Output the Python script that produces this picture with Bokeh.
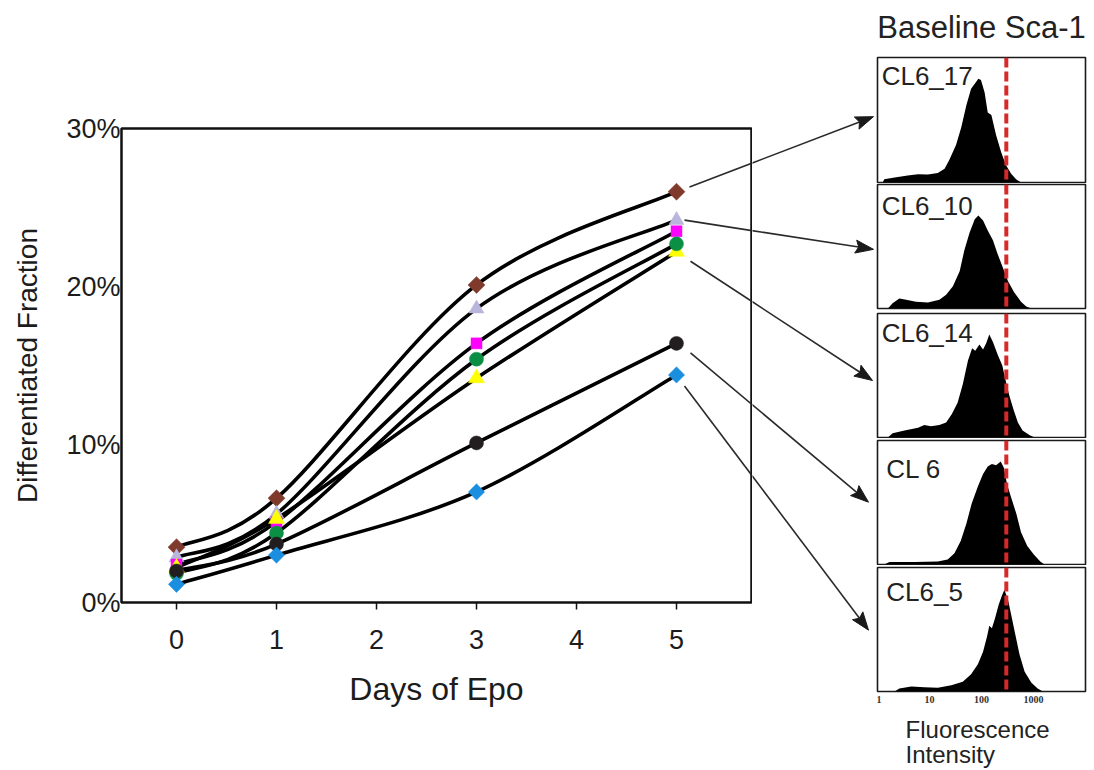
import numpy as np
from bokeh.plotting import figure
from bokeh.models import (Range1d, FixedTicker, PrintfTickFormatter, ColumnDataSource, Span, Label)
from bokeh.core.properties import value
from bokeh.layouts import row, column
from bokeh.embed import file_html
from bokeh.resources import INLINE

# ---------------- data ----------------
days = [0, 1, 3, 5]

# differentiated fraction (%) per clone after 0, 1, 3, 5 days of Epo
frac_cl6_17 = [3.5, 6.6, 20.1, 26.0]
frac_cl6_10 = [2.85, 5.6, 18.6, 24.2]
frac_clone_m = [2.4, 5.1, 16.4, 23.5]
frac_cl6_14 = [2.2, 5.3, 14.2, 22.2]
frac_clone_g = [1.85, 4.4, 15.4, 22.7]
frac_cl6 = [2.0, 3.7, 10.1, 16.4]
frac_cl6_5 = [1.15, 3.0, 7.0, 14.4]

x_ticks = [0, 1, 2, 3, 4, 5]
y_ticks = [0, 10, 20, 30]

# baseline Sca-1 histograms: log10 fluorescence intensity and relative count
panel_names = ["CL6_17", "CL6_10", "CL6_14", "CL 6", "CL6_5"]
hist_log_cl6_17 = [0.10, 0.13, 0.33, 0.58, 0.78, 0.97, 1.16, 1.29, 1.38, 1.51, 1.61, 1.71, 1.80,
                   1.87, 1.94, 1.99, 2.06, 2.12, 2.19, 2.28, 2.38, 2.47, 2.57, 2.67, 2.76]
hist_cnt_cl6_17 = [0.0, 0.027, 0.04, 0.056, 0.067, 0.064, 0.077, 0.11, 0.18, 0.30, 0.44, 0.62, 0.75,
                   0.79, 0.83, 0.82, 0.72, 0.56, 0.54, 0.38, 0.24, 0.14, 0.07, 0.024, 0.0]
hist_log_cl6_10 = [0.20, 0.29, 0.42, 0.55, 0.74, 0.97, 1.19, 1.32, 1.45, 1.58, 1.67, 1.77, 1.87,
                   1.94, 2.03, 2.12, 2.22, 2.31, 2.41, 2.51, 2.63, 2.76, 2.86, 2.96]
hist_cnt_cl6_10 = [0.0, 0.043, 0.08, 0.07, 0.054, 0.048, 0.07, 0.11, 0.18, 0.30, 0.47, 0.61, 0.72,
                   0.75, 0.71, 0.63, 0.55, 0.44, 0.33, 0.22, 0.13, 0.054, 0.016, 0.0]
hist_log_cl6_14 = [0.20, 0.29, 0.52, 0.78, 0.90, 1.03, 1.19, 1.32, 1.43, 1.54, 1.64, 1.74, 1.82, 1.88,
                   1.96, 2.03, 2.09, 2.15, 2.22, 2.31, 2.40, 2.47, 2.54, 2.62, 2.70, 2.79, 2.92, 3.02]
hist_cnt_cl6_14 = [0.0, 0.035, 0.056, 0.078, 0.10, 0.09, 0.10, 0.12, 0.19, 0.28, 0.43, 0.62, 0.72, 0.70,
                   0.75, 0.71, 0.76, 0.83, 0.77, 0.67, 0.58, 0.45, 0.33, 0.22, 0.12, 0.056, 0.02, 0.0]
hist_log_cl6 = [0.13, 0.23, 0.71, 1.16, 1.35, 1.48, 1.60, 1.71, 1.81, 1.93, 2.03, 2.12, 2.20, 2.28,
                2.37, 2.43, 2.49, 2.57, 2.67, 2.76, 2.88, 3.01, 3.13, 3.21]
hist_cnt_cl6 = [0.0, 0.02, 0.02, 0.024, 0.04, 0.09, 0.19, 0.33, 0.49, 0.63, 0.73, 0.79, 0.81, 0.80,
                0.83, 0.78, 0.65, 0.54, 0.41, 0.26, 0.15, 0.078, 0.024, 0.0]
hist_log_cl6_5 = [0.33, 0.42, 0.65, 0.90, 1.16, 1.42, 1.64, 1.80, 1.93, 2.03, 2.11, 2.15, 2.20, 2.26,
                  2.33, 2.39, 2.44, 2.51, 2.57, 2.65, 2.73, 2.83, 2.96, 3.08, 3.18]
hist_cnt_cl6_5 = [0.0, 0.024, 0.04, 0.035, 0.03, 0.05, 0.078, 0.14, 0.22, 0.32, 0.45, 0.53, 0.51, 0.59,
                  0.70, 0.77, 0.82, 0.74, 0.62, 0.46, 0.30, 0.16, 0.07, 0.024, 0.0]
sca1_gate = 300
hist_ticks = [1, 10, 100, 1000]

FONT = "Liberation Sans"
INK = "#1c1c1c"

# ---------------- main time course ----------------
X0, X1, Y0, Y1 = -0.55, 5.75, 0, 30
FRAME_W, FRAME_H = 630, 474
main = figure(width=752, height=770, x_range=Range1d(X0, X1), y_range=Range1d(Y0, Y1),
              output_backend="svg", toolbar_location=None, title=None,
              min_border_left=121, min_border_right=1, min_border_top=128, min_border_bottom=168)
main.xgrid.visible = False
main.ygrid.visible = False
main.outline_line_color = "#111111"
main.outline_line_width = 2.5
main.outline_line_alpha = 1.0

xa = main.xaxis[0]
xa.ticker = FixedTicker(ticks=x_ticks)
xa.axis_label = "Days of Epo"
xa.axis_line_color = None
xa.major_tick_out = 7
xa.major_tick_in = 0
xa.major_tick_line_width = 1.5
xa.major_tick_line_color = "#111111"
xa.minor_tick_line_color = None
xa.major_label_standoff = 20
xa.axis_label_standoff = 19

ya = main.yaxis[0]
ya.ticker = FixedTicker(ticks=y_ticks)
ya.formatter = PrintfTickFormatter(format="%d%%")
ya.axis_label = "Differentiated Fraction"
ya.axis_line_color = None
ya.major_tick_line_color = None
ya.major_tick_out = 0
ya.major_tick_in = 0
ya.minor_tick_line_color = None
ya.major_label_standoff = 1
ya.axis_label_standoff = 20

for ax in (xa, ya):
    ax.major_label_text_font = FONT
    ax.major_label_text_font_size = "27px"
    ax.major_label_text_color = INK
    ax.axis_label_text_font = FONT
    ax.axis_label_text_font_style = "normal"
    ax.axis_label_text_color = INK
xa.axis_label_text_font_size = "32px"
ya.axis_label_text_font_size = "28px"


def smooth_segments(xs, ys):
    """Cubic Bezier pieces of a smoothed line through the points."""
    px = [xs[0]] + list(xs) + [xs[-1]]
    py = [ys[0]] + list(ys) + [ys[-1]]
    seg = dict(x0=[], y0=[], x1=[], y1=[], cx0=[], cy0=[], cx1=[], cy1=[])
    for i in range(1, len(px) - 2):
        seg["x0"].append(px[i])
        seg["y0"].append(py[i])
        seg["x1"].append(px[i + 1])
        seg["y1"].append(py[i + 1])
        seg["cx0"].append(px[i] + (px[i + 1] - px[i - 1]) / 6)
        seg["cy0"].append(py[i] + (py[i + 1] - py[i - 1]) / 6)
        seg["cx1"].append(px[i + 1] - (px[i + 2] - px[i]) / 6)
        seg["cy1"].append(py[i + 1] - (py[i + 2] - py[i]) / 6)
    return seg


series = [
    (frac_cl6_17, "square", "#7f3a2c", 12, np.pi / 4),
    (frac_cl6_10, "triangle", "#b9b5dc", 15, 0),
    (frac_clone_m, "square", "#ff00ff", 11, 0),
    (frac_cl6_14, "triangle", "#ffff00", 16, 0),
    (frac_clone_g, "circle", "#0b8f45", 14, 0),
    (frac_cl6, "circle", "#221e1f", 14, 0),
    (frac_cl6_5, "square", "#1b8fdf", 11.5, np.pi / 4),
]

for vals, *_ in series:
    main.bezier(x0="x0", y0="y0", x1="x1", y1="y1", cx0="cx0", cy0="cy0", cx1="cx1", cy1="cy1",
                source=ColumnDataSource(smooth_segments(days, vals)),
                line_color="#000000", line_width=3.6, line_cap="round")

for vals, marker, color, size, angle in series:
    main.scatter(days, vals, marker=marker, size=size, angle=angle,
                 fill_color=color, line_color=color, line_width=0.5)

# ---------------- pointers from day-5 values to the histograms ----------------
# strip between the chart and the histogram column, sharing the chart's scales
px_per_x = FRAME_W / (X1 - X0)
px_per_y = FRAME_H / (Y1 - Y0)
STRIP_W = 124
strip_x0 = X1 + 1 / px_per_x
strip = figure(width=STRIP_W, height=770, title=None,
               x_range=Range1d(strip_x0, strip_x0 + STRIP_W / px_per_x),
               y_range=Range1d(Y0 - 168 / px_per_y, Y1 + 128 / px_per_y),
               output_backend="svg", toolbar_location=None,
               x_axis_location=None, y_axis_location=None,
               min_border_left=0, min_border_right=0, min_border_top=0, min_border_bottom=0)
strip.xgrid.visible = False
strip.ygrid.visible = False
strip.outline_line_color = None

ptr_x0 = [5.13, 5.08, 5.14, 5.14, 5.08]
ptr_y0 = [frac_cl6_17[-1] + 0.3, frac_cl6_10[-1], frac_cl6_14[-1] - 0.6, frac_cl6[-1] - 0.6, frac_cl6_5[-1] - 0.7]
ptr_x1 = [6.97, 6.97, 6.96, 6.92, 6.92]
ptr_y1 = [30.75, 22.35, 14.05, 6.35, -1.75]

HEAD_L, HEAD_W, NOTCH = 18.0, 13.0, 3.0
body = dict(x0=[], y0=[], x1=[], y1=[])
heads = dict(xs=[], ys=[])
for xs_, ys_, xe_, ye_ in zip(ptr_x0, ptr_y0, ptr_x1, ptr_y1):
    dx, dy = (xe_ - xs_) * px_per_x, (ye_ - ys_) * px_per_y
    n = np.hypot(dx, dy)
    ux, uy = dx / n, dy / n
    vx, vy = -uy, ux
    bx, by = -ux * HEAD_L, -uy * HEAD_L
    pts = [(0, 0), (bx + vx * HEAD_W / 2, by + vy * HEAD_W / 2),
           (bx + ux * NOTCH, by + uy * NOTCH), (bx - vx * HEAD_W / 2, by - vy * HEAD_W / 2)]
    heads["xs"].append([xe_ + p[0] / px_per_x for p in pts])
    heads["ys"].append([ye_ + p[1] / px_per_y for p in pts])
    body["x0"].append(xs_)
    body["y0"].append(ys_)
    body["x1"].append(xe_ + (bx + ux * NOTCH) / px_per_x)
    body["y1"].append(ye_ + (by + uy * NOTCH) / px_per_y)

for fig in (main, strip):
    fig.segment(x0="x0", y0="y0", x1="x1", y1="y1", source=ColumnDataSource(body),
                line_color="#2a2a2a", line_width=1.6)
strip.patches(xs="xs", ys="ys", source=ColumnDataSource(heads),
              fill_color="#1a1a1a", line_color="#1a1a1a", line_width=1)


# ---------------- histogram column ----------------
def text_strip(height, lines):
    """Borderless figure on the histogram x scale holding a few lines of text."""
    f = figure(width=218, height=height, x_axis_type="log", x_range=Range1d(1, 10000),
               y_range=Range1d(0, 1), output_backend="svg", toolbar_location=None, title=None,
               x_axis_location=None, y_axis_location=None,
               min_border_left=1, min_border_right=9, min_border_top=0, min_border_bottom=0)
    f.xgrid.visible = False
    f.ygrid.visible = False
    f.outline_line_color = None
    for x, y, txt, size, align in lines:
        f.text(x=[x], y=[y], text=[txt], text_font=value(FONT), text_font_size=size,
               text_color="#222222", text_align=align, text_baseline="alphabetic")
    return f


head = text_strip(56, [(10 ** 2.0, 0.52, "Baseline Sca-1", "31px", "center")])

hist_logs = [hist_log_cl6_17, hist_log_cl6_10, hist_log_cl6_14, hist_log_cl6, hist_log_cl6_5]
hist_cnts = [hist_cnt_cl6_17, hist_cnt_cl6_10, hist_cnt_cl6_14, hist_cnt_cl6, hist_cnt_cl6_5]
# (figure height, top border, bottom border)
panel_boxes = [(127, 1, 1), (127, 1, 2), (128, 3, 1), (127, 2, 1), (146, 2, 20)]
label_pos = [(0.08, 0.85), (0.08, 0.83), (0.08, 0.84), (0.17, 0.77), (0.17, 0.80)]

panels = []
for k in range(5):
    h, bt, bb = panel_boxes[k]
    last = k == 4
    p = figure(width=218, height=h, x_axis_type="log", x_range=Range1d(1, 10000), y_range=Range1d(0, 1),
               output_backend="svg", toolbar_location=None, title=None,
               x_axis_location="below" if last else None, y_axis_location=None,
               min_border_left=1, min_border_right=9, min_border_top=bt, min_border_bottom=bb)
    p.xgrid.visible = False
    p.ygrid.visible = False
    p.outline_line_color = "#1a1a1a"
    p.outline_line_width = 1.6
    p.outline_line_alpha = 1.0
    xs = 10 ** np.array(hist_logs[k])
    p.varea(x=xs, y1=np.zeros(len(xs)), y2=hist_cnts[k], fill_color="#000000")
    p.add_layout(Span(location=sca1_gate, dimension="height", line_color="#d62a2a",
                      line_width=4, line_dash="10 4"))
    lx, ly = label_pos[k]
    p.add_layout(Label(x=10 ** lx, y=ly, text=panel_names[k], text_font=FONT, text_font_size="26px",
                       text_color="#222222", text_baseline="alphabetic"))
    if last:
        ax = p.xaxis[0]
        ax.ticker = FixedTicker(ticks=hist_ticks)
        ax.formatter = PrintfTickFormatter(format="%d")
        ax.axis_line_color = None
        ax.major_tick_line_color = None
        ax.major_tick_out = 0
        ax.major_tick_in = 0
        ax.minor_tick_line_color = None
        ax.major_label_standoff = 4
        ax.major_label_text_font = "Liberation Serif"
        ax.major_label_text_font_style = "bold"
        ax.major_label_text_font_size = "10px"
        ax.major_label_text_color = "#333333"
    panels.append(p)

# axis caption under the histogram column, left aligned
cap = text_strip(59, [(10 ** 0.54, 0.695, "Fluorescence", "24px", "left"),
                      (10 ** 0.54, 0.272, "Intensity", "24px", "left")])

layout = row(main, column(strip), column(head, *panels, cap, spacing=0), spacing=0)

with open("out.html", "w") as f:
    f.write(file_html(layout, INLINE))
